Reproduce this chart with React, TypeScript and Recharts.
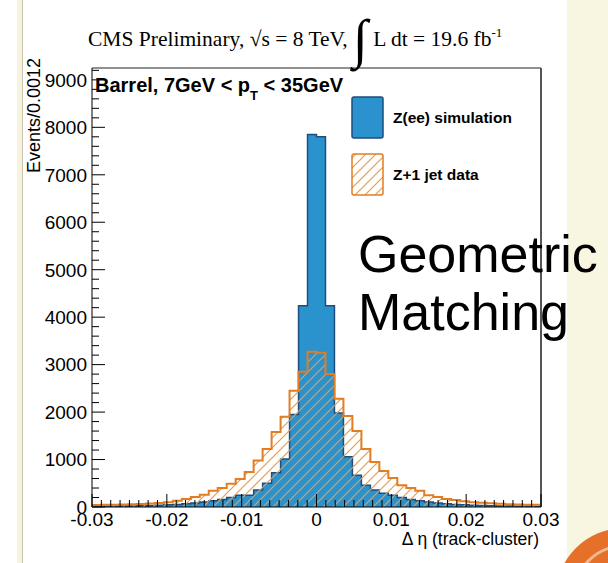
import { ComposedChart, Area, XAxis, YAxis, ReferenceLine } from "recharts";

// 50 bins of width 0.0012 between -0.03 and 0.03
const xMin = -0.03;
const binWidth = 0.0012;

// Z(ee) simulation, events per bin
const simCounts = [
  12, 15, 18, 20, 22, 25, 30, 35, 45, 55, 70, 85, 105, 130, 160, 200, 250, 250,
  360, 500, 720, 1010, 1950, 4240, 7850, 7800, 4240, 1980, 1060, 670, 460, 360,
  290, 250, 200, 160, 130, 105, 85, 70, 55, 45, 35, 30, 25, 22, 20, 18, 15, 12,
];

// Z+1 jet data, events per bin
const dataCounts = [
  40, 45, 50, 55, 60, 65, 75, 85, 100, 130, 170, 210, 260, 340, 400, 490, 590,
  740, 980, 1220, 1580, 1900, 2450, 2850, 3270, 3250, 2800, 2280, 1920, 1600,
  1220, 950, 760, 610, 460, 400, 340, 250, 210, 170, 150, 120, 100, 90, 80, 70,
  60, 55, 50, 45,
];

const xMajorTicks = [-0.03, -0.02, -0.01, 0, 0.01, 0.02, 0.03];
const xMinorStep = 0.00125;
const yMajorTicks = [0, 1000, 2000, 3000, 4000, 5000, 6000, 7000, 8000, 9000];
const yMinorStep = 200;
const yMax = 9250;

const binEdges = Array.from({ length: simCounts.length + 1 }, (_, i) =>
  +(xMin + i * binWidth).toFixed(4)
);
const histData = binEdges.map((x, i) => {
  const k = Math.min(i, simCounts.length - 1);
  return { x, sim: simCounts[k], dat: dataCounts[k] };
});

const xTicks = Array.from({ length: 49 }, (_, i) => +(xMin + i * xMinorStep).toFixed(5));
const yTicks = Array.from({ length: 47 }, (_, i) => i * yMinorStep);

const BLUE = "#2A92CD";
const BLUE_EDGE = "#1D4E7E";
const ORANGE = "#E27D22";
const HATCH = "#EE9A45";
const SANS = "'Liberation Sans', Arial, Helvetica, sans-serif";
const SERIF = "'Liberation Serif', 'Times New Roman', serif";

const isMajorX = (v: number) => xMajorTicks.some((t) => Math.abs(t - v) < 1e-9);

const XTick = (props: any) => {
  const { x, y, payload } = props;
  const major = isMajorX(payload.value);
  return (
    <g>
      <line x1={x} x2={x} y1={y} y2={y - (major ? 13 : 7)} stroke="#000" strokeWidth={1} />
      {major && (
        <text x={x} y={y + 19} textAnchor="middle" fontSize={19} fontFamily={SANS} fill="#000">
          {String(Math.round(payload.value * 100) / 100)}
        </text>
      )}
    </g>
  );
};

const YTick = (props: any) => {
  const { x, y, payload } = props;
  const major = yMajorTicks.includes(payload.value);
  return (
    <g>
      <line x1={x} x2={x + (major ? 13 : 7)} y1={y} y2={y} stroke="#000" strokeWidth={1} />
      {major && (
        <text x={x - 5} y={y} dy="0.36em" textAnchor="end" fontSize={19} fontFamily={SANS} fill="#000">
          {payload.value}
        </text>
      )}
    </g>
  );
};

const App = () => {
  return (
    <div
      style={{
        position: "absolute",
        left: 0,
        top: 0,
        width: 608,
        height: 563,
        background: "#fff",
        overflow: "hidden",
      }}
    >
      {/* slide background */}
      <svg width={608} height={563} style={{ position: "absolute", left: 0, top: 0 }}>
        <rect x={17} y={0} width={5} height={563} fill="#F6F2DC" />
        <line x1={22.5} x2={22.5} y1={0} y2={563} stroke="#C9C5B2" strokeWidth={1} />
        <rect x={567} y={0} width={41} height={563} fill="#F8F5E1" />
        <circle cx={624} cy={596} r={68} fill="#E4702A" />
        <circle cx={624} cy={596} r={50} fill="none" stroke="#F3B98E" strokeWidth={3} />
      </svg>

      <div style={{ position: "absolute", left: 0, top: 0 }}>
        <ComposedChart
          width={608}
          height={563}
          data={histData}
          margin={{ top: 68, right: 67, left: 32, bottom: 26 }}
        >
          <defs>
            <pattern id="hatch" patternUnits="userSpaceOnUse" width={10} height={10}>
              <path d="M-1,1 l2,-2 M0,10 l10,-10 M9,11 l2,-2" stroke={HATCH} strokeWidth={1.2} />
            </pattern>
          </defs>
          <XAxis
            dataKey="x"
            type="number"
            domain={[xMin, 0.03]}
            allowDataOverflow
            ticks={xTicks}
            interval={0}
            tickSize={0}
            tickMargin={0}
            tickLine={false}
            tick={XTick}
            axisLine={{ stroke: "#000" }}
          />
          <YAxis
            type="number"
            width={60}
            domain={[0, yMax]}
            allowDataOverflow
            ticks={yTicks}
            interval={0}
            tickSize={0}
            tickMargin={0}
            tickLine={false}
            tick={YTick}
            axisLine={{ stroke: "#000" }}
          />
          <Area
            type="stepAfter"
            dataKey="sim"
            stroke={BLUE_EDGE}
            strokeWidth={1.5}
            fill={BLUE}
            fillOpacity={1}
            dot={false}
            activeDot={false}
            isAnimationActive={false}
          />
          <Area
            type="stepAfter"
            dataKey="dat"
            stroke={ORANGE}
            strokeWidth={2}
            fill="url(#hatch)"
            fillOpacity={1}
            dot={false}
            activeDot={false}
            isAnimationActive={false}
          />
          <ReferenceLine y={yMax} stroke="#222" strokeWidth={1} />
          <ReferenceLine x={0.03} stroke="#555" strokeWidth={2} />
        </ComposedChart>
      </div>

      {/* titles, legend and annotations */}
      <svg
        width={608}
        height={563}
        style={{ position: "absolute", left: 0, top: 0, pointerEvents: "none" }}
      >
        <defs>
          <pattern id="hatchLegend" patternUnits="userSpaceOnUse" width={10} height={10}>
            <path d="M-1,1 l2,-2 M0,10 l10,-10 M9,11 l2,-2" stroke={HATCH} strokeWidth={1.2} />
          </pattern>
        </defs>
        <text x={88} y={46} fontSize={21.5} fontFamily={SERIF} fill="#000">
          CMS Preliminary, √s = 8 TeV,{" "}
          <tspan fontSize={54} dy={11}>∫</tspan>
          <tspan fontSize={21.5} dy={-11}> L dt = 19.6 fb</tspan>
          <tspan fontSize={13} dy={-9}>-1</tspan>
        </text>

        <text x={95} y={92} fontSize={20} fontWeight="bold" fontFamily={SANS} fill="#000">
          Barrel, 7GeV &lt; p<tspan fontSize={13} dy={8}>T</tspan>
          <tspan dy={-8}> &lt; 35GeV</tspan>
        </text>

        <rect x={352} y={97} width={31} height={41} rx={2} fill={BLUE} stroke={BLUE_EDGE} strokeWidth={1.5} />
        <text x={393} y={123} fontSize={15.5} fontWeight="bold" fontFamily={SANS} fill="#000">
          Z(ee) simulation
        </text>
        <rect x={352} y={154} width={31} height={41} rx={2} fill="url(#hatchLegend)" stroke={ORANGE} strokeWidth={1.5} />
        <text x={393} y={180} fontSize={15.5} fontWeight="bold" fontFamily={SANS} fill="#000">
          Z+1 jet data
        </text>

        <text
          x={40}
          y={58}
          transform="rotate(-90, 40, 58)"
          textAnchor="end"
          fontSize={18}
          fontFamily={SANS}
          fill="#000"
        >
          Events/0.0012
        </text>
        <text x={539} y={545} textAnchor="end" fontSize={17.5} fontFamily={SANS} fill="#000">
          Δ η (track-cluster)
        </text>

        <text x={358} y={272} fontSize={52} fontFamily={SANS} fill="#000">
          Geometric
        </text>
        <text x={358} y={330} fontSize={52} fontFamily={SANS} fill="#000">
          Matching
        </text>
      </svg>
    </div>
  );
};

export default App;
